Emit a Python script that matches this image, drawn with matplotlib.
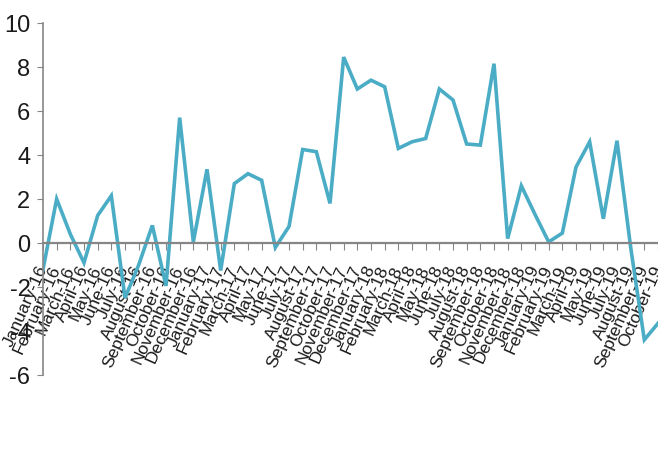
import numpy as np
import matplotlib
matplotlib.use("Agg")
import matplotlib.pyplot as plt

#%% Data: monthly values Jan-16 .. Oct-19
months = ["January", "February", "March", "April", "May", "June", "July",
          "August", "September", "October", "November", "December"]
years = ["16", "17", "18", "19"]
labels = [m + "-" + y for y in years for m in months][:46]

values = [-1.2, 2.0, 0.4, -0.9, 1.25, 2.15, -2.5, -1.0, 0.8, -1.95, 5.7, 0.05,
          3.35, -1.25, 2.7, 3.15, 2.85, -0.2, 0.75, 4.25, 4.15, 1.8, 8.45, 7.0,
          7.4, 7.1, 4.3, 4.6, 4.75, 7.0, 6.5, 4.5, 4.45, 8.15, 0.2, 2.6,
          1.3, 0.05, 0.45, 3.45, 4.6, 1.1, 4.65, -0.2, -4.4, -3.65]

yticks = [-6, -4, -2, 0, 2, 4, 6, 8, 10]

#%% Plot
plt.rcParams['font.family'] = ['Liberation Sans', 'DejaVu Sans']
fig = plt.figure(figsize=(6.58, 4.75), dpi=100)
ax = fig.add_axes([43 / 658, 100 / 475, 1 - 43 / 658, 352 / 475])

# spine position first, it resets the ticks
ax.spines['top'].set_visible(False)
ax.spines['right'].set_visible(False)
ax.spines['bottom'].set_position(('data', 0))
ax.spines['bottom'].set_color('#868686')
ax.spines['bottom'].set_linewidth(1.6)
ax.spines['left'].set_color('#868686')
ax.spines['left'].set_linewidth(1.2)

x = np.arange(len(values))
ax.plot(x, values, color='#4BACC6', lw=2.6, solid_joinstyle='miter')

ax.set_xlim(0, len(values) - 1)
ax.set_ylim(-6, 10)
ax.set_yticks(yticks)
ax.set_yticklabels([str(t) for t in yticks], fontsize=17, color='#1a1a1a')

ax.set_xticks(x)
ax.set_xticklabels(labels, rotation=66, ha='right', va='center',
                   rotation_mode='anchor', fontsize=12.5, color='#1a1a1a')

ax.tick_params(axis='y', direction='out', length=4, color='#868686', pad=5)
ax.tick_params(axis='x', direction='out', length=5, color='#868686', pad=12)

fig.savefig('out.png', dpi=100)
